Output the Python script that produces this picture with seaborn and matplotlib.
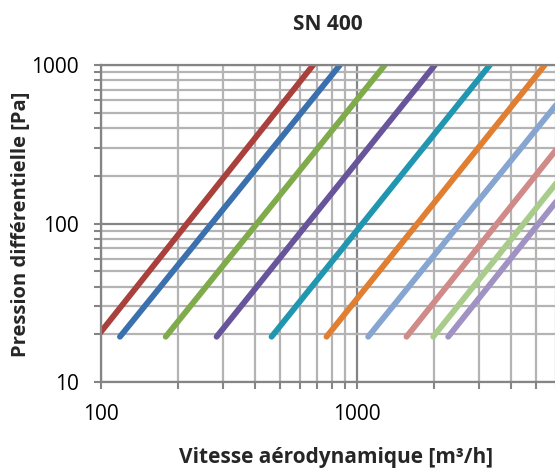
import matplotlib
matplotlib.use("Agg")
import matplotlib.pyplot as plt
import matplotlib.ticker as mticker
import seaborn as sns
import pandas as pd

# ---- data (two end points per straight log-log line) ----
series = ["s1", "s2", "s3", "s4", "s5", "s6", "s7", "s8", "s9", "s10"]
q_start = [96.5, 118.6, 179, 283, 464, 761, 1107, 1563, 1987, 2275]
p_start = [19.3, 19.3, 19.3, 19.3, 19.3, 19.3, 19.3, 19.3, 19.3, 19.3]
q_end = [675, 859, 1286, 2017, 3309, 5425, 6000, 6000, 6000, 6000]
p_end = [1000, 1000, 1000, 1000, 1000, 1000, 559, 291, 179, 137]
colors = ["#A9403C", "#3B70AE", "#7FAB4B", "#67549A", "#2196B0",
          "#E07E31", "#86A5D1", "#D08A88", "#A9CC8C", "#A093C3"]

title = "SN 400"
xlabel = "Vitesse aérodynamique [m³/h]"
ylabel = "Pression différentielle [Pa]"
x_ticks = [100, 1000]
y_ticks = [10, 100, 1000]

rows = []
for s, qa, pa, qb, pb in zip(series, q_start, p_start, q_end, p_end):
    rows.append({"series": s, "Q": qa, "P": pa})
    rows.append({"series": s, "Q": qb, "P": pb})
df = pd.DataFrame(rows)

sns.set_theme(style="white")
plt.rcParams["font.family"] = ["Open Sans", "DejaVu Sans"]

fig = plt.figure(figsize=(5.55, 4.68), dpi=100)
W, H = 555, 468
ax = fig.add_axes([101 / W, 86 / H, 455 / W, 317 / H])

ax.set_xscale("log")
ax.set_yscale("log")
ax.set_xlim(100, 6000)
ax.set_ylim(10, 1000)

minor_c = "#B4B4B4"
major_c = "#858585"
ax.set_axisbelow(True)
ax.grid(True, which="minor", color=minor_c, linewidth=1.6)
ax.grid(True, which="major", color=major_c, linewidth=1.6)

sns.lineplot(data=df, x="Q", y="P", hue="series", palette=colors,
             sort=False, legend=False, linewidth=4.2, ax=ax,
             solid_capstyle="round")

ax.xaxis.set_major_locator(mticker.FixedLocator(x_ticks))
ax.yaxis.set_major_locator(mticker.FixedLocator(y_ticks))
ax.xaxis.set_minor_locator(mticker.LogLocator(base=10, subs=range(2, 10)))
ax.yaxis.set_minor_locator(mticker.LogLocator(base=10, subs=range(2, 10)))
ax.xaxis.set_major_formatter(mticker.FuncFormatter(lambda v, p: f"{v:g}"))
ax.yaxis.set_major_formatter(mticker.FuncFormatter(lambda v, p: f"{v:g}"))
ax.xaxis.set_minor_formatter(mticker.NullFormatter())
ax.yaxis.set_minor_formatter(mticker.NullFormatter())

ax.tick_params(which="both", direction="out", length=5, width=1.5,
               color=major_c, labelsize=15, labelcolor="black",
               bottom=True, left=True)
ax.tick_params(axis="x", which="major", pad=11)
ax.tick_params(axis="y", which="major", pad=11)
ax.set_xlabel("")
ax.set_ylabel("")

for side in ["left", "bottom", "top"]:
    ax.spines[side].set_visible(True)
    ax.spines[side].set_color(major_c)
    ax.spines[side].set_linewidth(1.6)
ax.spines["right"].set_visible(False)

fig.text(328 / W, 1 - 25 / H, title, ha="center", va="center",
         fontsize=15, fontweight="bold")
fig.text(336 / W, 1 - 457 / H, xlabel, ha="center", va="center",
         fontsize=15, fontweight="bold")
fig.text(21 / W, 1 - 224 / H, ylabel, ha="center", va="center",
         rotation=90, fontsize=14.5, fontweight="bold")

fig.savefig("out.png", dpi=100)
